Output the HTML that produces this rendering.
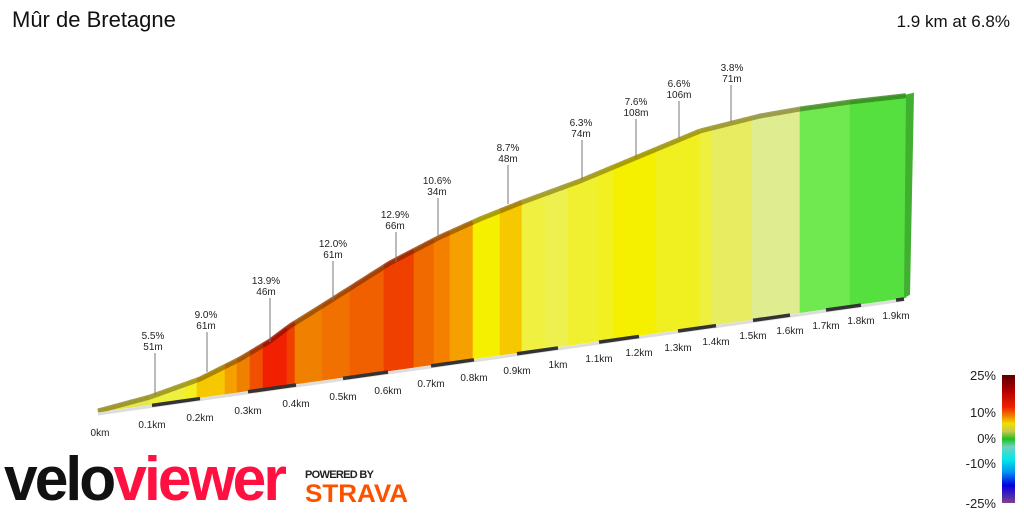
<!DOCTYPE html>
<html><head><meta charset="utf-8"><style>
body{margin:0;background:#fff;width:1024px;height:512px;overflow:hidden;font-family:"Liberation Sans",sans-serif}
</style></head><body>
<svg id="s" width="1024" height="512" xmlns="http://www.w3.org/2000/svg" font-family="Liberation Sans, sans-serif">
<text x="12" y="27" font-size="22" fill="#111">Mûr de Bretagne</text>
<text x="1010" y="27" font-size="17" fill="#111" text-anchor="end">1.9 km at 6.8%</text>
<defs><linearGradient id="lg" x1="0" y1="0" x2="0" y2="1">
<stop offset="0" stop-color="#5a0000"/><stop offset="0.12" stop-color="#b00000"/><stop offset="0.25" stop-color="#f02000"/><stop offset="0.32" stop-color="#f08000"/><stop offset="0.38" stop-color="#f0e000"/><stop offset="0.44" stop-color="#c8c850"/><stop offset="0.5" stop-color="#20c020"/><stop offset="0.56" stop-color="#70d0c0"/><stop offset="0.66" stop-color="#00e8e8"/><stop offset="0.76" stop-color="#0090f0"/><stop offset="0.86" stop-color="#0000e0"/><stop offset="1" stop-color="#804090"/></linearGradient></defs>
<rect x="1002" y="375" width="13" height="128" fill="url(#lg)"/>
<g font-size="13" fill="#222" text-anchor="end">
<text x="996" y="380">25%</text><text x="996" y="417">10%</text><text x="996" y="443">0%</text><text x="996" y="468">-10%</text><text x="996" y="508">-25%</text></g>
<text x="4" y="500" font-size="62" font-weight="bold" fill="#111" letter-spacing="-3" textLength="280" lengthAdjust="spacingAndGlyphs">velo<tspan fill="#ff1040">viewer</tspan></text>
<text x="305" y="478" font-size="11" font-weight="bold" fill="#222" letter-spacing="1" textLength="70">POWERED BY</text>
<text x="305" y="502" font-size="25" font-weight="bold" fill="#fc5200" textLength="103" lengthAdjust="spacingAndGlyphs">STRAVA</text>
<g id="g"></g>
</svg>
<script>
var NS="http://www.w3.org/2000/svg",g=document.getElementById('g');
function el(t,a,txt){var e=document.createElementNS(NS,t);for(var k in a)e.setAttribute(k,a[k]);if(txt)e.textContent=txt;g.appendChild(e);return e;}
var top_=[[98,410],[150,396],[200,378],[240,358],[270,340],[290,325],[330,300],[390,262],[440,236],[480,218],[520,202],[580,180],[640,155],[700,130],[760,115],[800,108],[850,101],[912,94]];
function ty(x){for(var i=0;i<top_.length-1;i++){var a=top_[i],b=top_[i+1];if(x<=b[0]){return a[1]+(b[1]-a[1])*(x-a[0])/(b[0]-a[0]);}}return 94;}
function by(x){return 412-(x-98)*114/806;}
function dk(c){var n=parseInt(c.slice(1),16),r=(n>>16)&255,gg=(n>>8)&255,b=n&255;return "rgb("+Math.round(r*0.62)+","+Math.round(gg*0.58)+","+Math.round(b*0.4)+")";}
var strips=[[98,150,"#e4e650"],[150,185,"#eef040"],[185,197,"#f4f020"],[197,225,"#f5c800"],[225,237,"#f5a000"],[237,250,"#f08000"],[250,263,"#f05000"],[263,287,"#f02000"],[287,295,"#f04000"],[295,322,"#f08000"],[322,350,"#f07000"],[350,384,"#f06000"],[384,414,"#f04000"],[414,434,"#f06a00"],[434,450,"#f58000"],[450,473,"#f5a000"],[473,500,"#f5f000"],[500,522,"#f5c800"],[522,545,"#f0f040"],[545,568,"#eef050"],[568,598,"#f0f030"],[598,614,"#f2f020"],[614,656,"#f5f000"],[656,700,"#f0f020"],[700,712,"#eef040"],[712,752,"#e8ec60"],[752,800,"#e0ec90"],[800,850,"#70e850"],[850,906,"#55e040"]];
strips.forEach(function(s){var x1=s[0],x2=s[1],pts=[];for(var x=x1;x<=x2;x+=2)pts.push(x+","+ty(x));pts.push(x2+","+ty(x2));pts.push(x2+","+by(x2));pts.push(x1+","+by(x1));el('polygon',{points:pts.join(" "),fill:s[2],stroke:s[2],"stroke-width":0.6});});
strips.forEach(function(s){var pts=[];for(var x=s[0];x<=s[1];x+=2)pts.push(x+","+(ty(x)+1));pts.push(s[1]+","+(ty(s[1])+1));el('polyline',{points:pts.join(" "),fill:"none",stroke:dk(s[2]),"stroke-width":5,opacity:0.8});});
// right face
el('polygon',{points:"906,"+ty(906)+" 914,"+(ty(906)-2)+" 910,"+(by(906)-3)+" 904,"+by(904),fill:"#40b030"});
var lx=[100,152,200,248,296,343,388,431,474,517,558,599,639,678,716,753,790,826,861,896,904],ly=[432,424,417,410,403,396,390,383,377,370,364,358,352,347,341,335,330,325,320,315];
el('line',{x1:98,y1:414,x2:904,y2:300,stroke:"#ddd","stroke-width":3});
for(var i=1;i<20;i+=2){var xa=lx[i],xb=lx[i+1];el('line',{x1:xa,y1:by(xa)+1,x2:xb,y2:by(xb)+1,stroke:"#333","stroke-width":3.5});}
var labs=["0km","0.1km","0.2km","0.3km","0.4km","0.5km","0.6km","0.7km","0.8km","0.9km","1km","1.1km","1.2km","1.3km","1.4km","1.5km","1.6km","1.7km","1.8km","1.9km"];
labs.forEach(function(t,i){el('text',{x:lx[i],y:ly[i]+4,"font-size":10,fill:"#222","text-anchor":"middle"},t);});
var ann=[[153,335,"5.5%","51m",155,395],[206,314,"9.0%","61m",207,372],[266,280,"13.9%","46m",270,342],[333,243,"12.0%","61m",333,300],[395,214,"12.9%","66m",396,262],[437,180,"10.6%","34m",438,238],[508,147,"8.7%","48m",508,204],[581,122,"6.3%","74m",582,180],[636,101,"7.6%","108m",636,158],[679,83,"6.6%","106m",679,138],[732,67,"3.8%","71m",731,122]];
ann.forEach(function(a){el('text',{x:a[0],y:a[1]+4,"font-size":10,fill:"#222","text-anchor":"middle"},a[2]);el('text',{x:a[0],y:a[1]+15,"font-size":10,fill:"#222","text-anchor":"middle"},a[3]);el('line',{x1:a[4],y1:a[1]+18,x2:a[4],y2:a[5],stroke:"#777","stroke-width":1});});
</script>
</body></html>
